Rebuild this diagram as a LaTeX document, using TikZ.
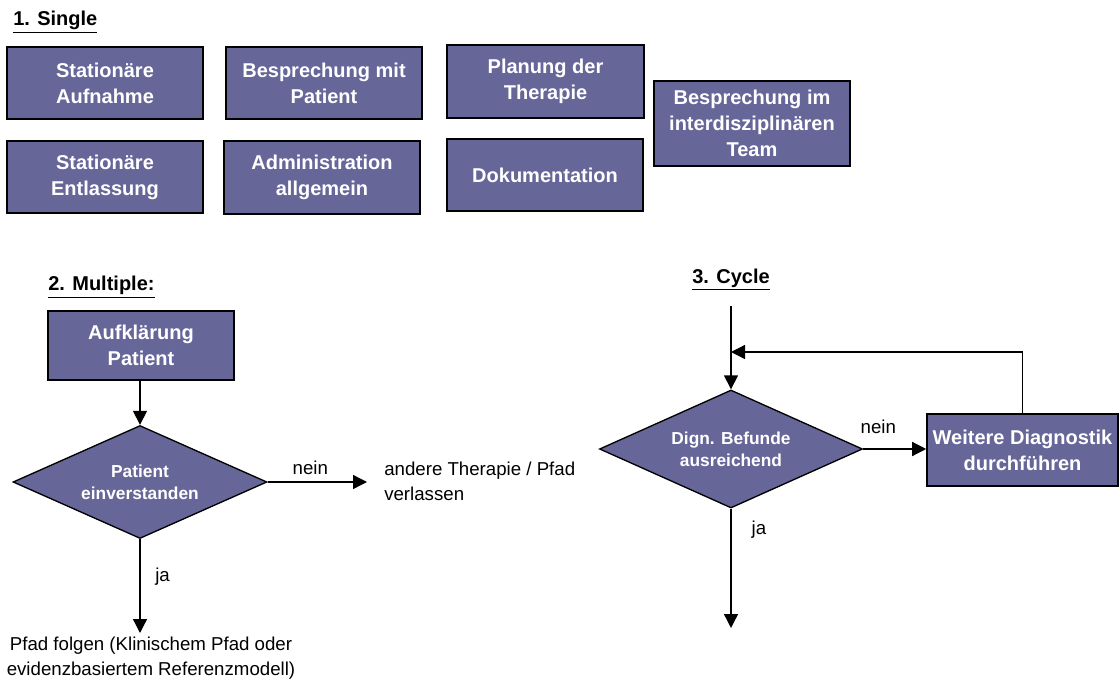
\documentclass[tikz,border=0pt]{standalone}
\usepackage{fontspec}
\setmainfont{Liberation Sans}
\usetikzlibrary{shapes.geometric,arrows.meta}
\definecolor{boxfill}{RGB}{102,102,153}
\begin{document}
\begin{tikzpicture}[x=0.75pt,y=-0.75pt,
  sz/.style 2 args={minimum width=#1*0.75pt, minimum height=#2*0.75pt},
  task/.style={draw=black, line width=1.2pt, fill=boxfill, text=white,
    font=\fontsize{15}{19.5}\selectfont\bfseries, align=center, inner sep=0pt},
  decision/.style={diamond, draw=black, line width=1pt, fill=boxfill, text=white,
    font=\fontsize{13}{16.7}\selectfont\bfseries, align=center, inner sep=0pt},
  plain/.style={font=\fontsize{14}{18.75}\selectfont, inner sep=0pt},
  heading/.style={font=\fontsize{15}{18}\selectfont\bfseries, inner sep=0pt, anchor=base west},
  flow/.style={line width=1pt, -{Triangle[length=10.5pt,width=10.5pt]}},
  lbl/.style={font=\fontsize{14}{16}\selectfont, inner sep=3pt}
]
\useasboundingbox (0,0) rectangle (1120,684);

% ---- 1. Single
\node[heading] (h1) at (13,26) {\underline{1. Single}};
\node[task, sz={196}{72}] (s1) at (105,83)    {Stationäre\\Aufnahme};
\node[task, sz={196}{72}] (s2) at (324,83)    {Besprechung mit\\Patient};
\node[task, sz={197}{73}] (s3) at (545.5,81.5) {Planung der\\Therapie};
\node[task, sz={196}{85}] (s4) at (752,123.5) {Besprechung im\\interdisziplinären\\Team};
\node[task, sz={196}{72}] (s5) at (105,177)   {Stationäre\\Entlassung};
\node[task, sz={196}{73}] (s6) at (322,177.5) {Administration\\allgemein};
\node[task, sz={196}{72}] (s7) at (545,175)   {Dokumentation};

% ---- 2. Multiple
\node[heading] (h2) at (48,291) {\underline{2. Multiple:}};
\node[task, sz={186}{69}] (a1) at (141,345.5) {Aufklärung\\Patient};
\node[decision, shape aspect=2.25, sz={254}{113}] (d1) at (140,482) {Patient\\einverstanden};
\node[plain, align=left, anchor=west, inner xsep=12.75pt] (t1) at (367,481)
  {andere Therapie / Pfad\\verlassen};
\node[plain, align=center, anchor=north, inner ysep=2.5pt] (t2) at (151,633)
  {Pfad folgen (Klinischem Pfad oder\\evidenzbasiertem Referenzmodell)};

\draw[flow] (a1.south -| d1.north) -- (d1.north);
\draw[flow] (d1.east) -- node[lbl, above, pos=0.43, yshift=2pt] {nein} (d1.east -| t1.west);
\draw[flow] (d1.south) -- node[lbl, right, pos=0.4, xshift=8pt] {ja} (d1.south |- t2.north);

% ---- 3. Cycle
\node[heading] (h3) at (692,283) {\underline{3. Cycle}};
\coordinate (cin) at (731,306);
\coordinate (cloop) at (731,352);
\coordinate (cout) at (731,628);
\node[decision, shape aspect=2.23, sz={263}{118}] (d2) at (731,449) {Dign. Befunde\\ausreichend};
\node[task, sz={191}{72}] (b2) at (1022.5,450) {Weitere Diagnostik\\durchführen};

\draw[flow] (cin) -- (d2.north);
\draw[flow] (d2.east) -- node[lbl, above, pos=0.24, yshift=8pt] {nein} (d2.east -| b2.west);
\draw[flow] (b2.north) |- (cloop);
\draw[flow] (d2.south) -- node[lbl, right, pos=0.18, xshift=12pt] {ja} (cout);
\end{tikzpicture}
\end{document}
